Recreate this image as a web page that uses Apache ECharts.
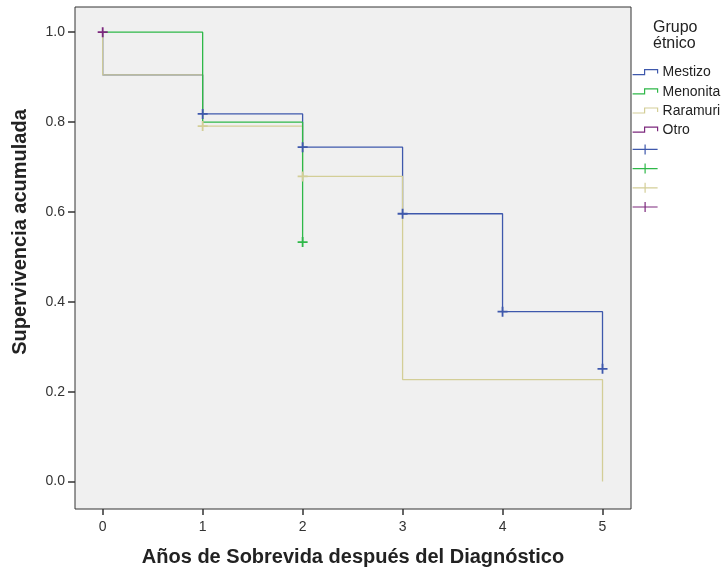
<!DOCTYPE html>
<html>
<head>
<meta charset="utf-8">
<script src="https://cdn.jsdelivr.net/npm/echarts@6/dist/echarts.min.js"></script>
<style>html,body{margin:0;padding:0;background:#fff}#c{width:723px;height:573px}</style>
</head>
<body>
<div id="c"></div>
<script>
// ---- data ----
const groups = ['Mestizo', 'Menonita', 'Raramuri', 'Otro'];
const colors = ['#3E58AC', '#2EB848', '#D3CE97', '#7C287D'];
const mestizoTimes = [0, 0, 1, 2, 3, 4, 5];
const mestizoSurv  = [1.0, 0.905, 0.818, 0.744, 0.596, 0.378, 0.251];
const menonitaTimes = [0, 1, 2];
const menonitaSurv  = [1.0, 0.80, 0.533];
const raramuriTimes = [0, 0, 1, 2, 3, 5];
const raramuriSurv  = [1.0, 0.905, 0.791, 0.679, 0.227, 0.0];
const otroTimes = [0];
const otroSurv  = [1.0];
const mestizoCensT = [1, 2, 3, 4, 5];
const mestizoCensS = [0.818, 0.744, 0.596, 0.378, 0.251];
const menonitaCensT = [2];
const menonitaCensS = [0.533];
const raramuriCensT = [1, 2];
const raramuriCensS = [0.791, 0.679];
const otroCensT = [0];
const otroCensS = [1.0];
const xTicks = [0, 1, 2, 3, 4, 5];
const yTicks = [0.0, 0.2, 0.4, 0.6, 0.8, 1.0];

const curves = [[mestizoTimes, mestizoSurv], [menonitaTimes, menonitaSurv], [raramuriTimes, raramuriSurv], [otroTimes, otroSurv]];
const cens = [[mestizoCensT, mestizoCensS], [menonitaCensT, menonitaCensS], [raramuriCensT, raramuriCensS], [otroCensT, otroCensS]];
const zip = (a, b) => a.map((v, i) => [v, b[i]]);

const stepIcon = 'path://M0,0M0,11L12,11L12,6L25,6L25,10M25,18';
const crossIcon = 'path://M0,0M0,9L25,9M12.5,4L12.5,14M25,18';
const censName = g => 'c_' + g;

const series = [];
[0, 2, 1, 3].forEach(i => {
  series.push({
    name: groups[i], type: 'line', step: 'end', data: zip(curves[i][0], curves[i][1]),
    showSymbol: false, symbol: 'none', lineStyle: { color: colors[i], width: 1.3 },
    itemStyle: { color: colors[i] }, animation: false, z: 2
  });
});
groups.forEach((g, i) => {
  series.push({
    name: censName(g), type: 'scatter', data: zip(cens[i][0], cens[i][1]),
    symbol: 'path://M0,5L10,5M5,0L5,10', symbolSize: 10,
    itemStyle: { color: 'rgba(0,0,0,0)', borderColor: colors[i], borderWidth: 1.8, opacity: 1 },
    animation: false, z: 3
  });
});

const legendData = groups.map((g, i) => ({
  name: g, icon: stepIcon,
  itemStyle: { color: 'rgba(0,0,0,0)', borderColor: colors[i], borderWidth: 1.2 }
})).concat(groups.map((g, i) => ({
  name: censName(g), icon: crossIcon,
  itemStyle: { color: 'rgba(0,0,0,0)', borderColor: colors[i], borderWidth: 1.2 }
})));

const chart = echarts.init(document.getElementById('c'), null, { renderer: 'canvas' });
const font = 'Arial, "Liberation Sans", sans-serif';
chart.setOption({
  backgroundColor: '#ffffff',
  animation: false,
  textStyle: { fontFamily: font },
  title: {
    text: 'Grupo\nétnico', left: 653, top: 20, padding: 0,
    textStyle: { fontSize: 16, fontWeight: 'normal', color: '#222', lineHeight: 16, fontFamily: font }
  },
  legend: {
    orient: 'vertical', left: 632, top: 63, padding: 0, itemWidth: 25, itemHeight: 18, itemGap: 0,
    symbolKeepAspect: false, selectedMode: false, data: legendData,
    formatter: n => (n.indexOf('c_') === 0 ? '' : n),
    textStyle: { fontSize: 14, lineHeight: 18, color: '#222', fontFamily: font }
  },
  grid: {
    left: 75, right: 92, top: 7, bottom: 64, show: true,
    backgroundColor: '#f0f0f0', borderColor: '#333', borderWidth: 1
  },
  xAxis: {
    type: 'value', min: -0.277, max: 5.285,
    name: 'Años de Sobrevida después del Diagnóstico', nameLocation: 'middle', nameGap: 38,
    nameTextStyle: { fontSize: 20, fontWeight: 'bold', color: '#222', fontFamily: font },
    axisLine: { show: false, onZero: false }, splitLine: { show: false },
    axisTick: { show: true, length: 6, customValues: xTicks, lineStyle: { color: '#333', width: 1.5 } },
    axisLabel: { customValues: xTicks, margin: 11, fontSize: 14, color: '#333', fontFamily: font }
  },
  yAxis: {
    type: 'value', min: -0.061, max: 1.056,
    name: 'Supervivencia acumulada', nameLocation: 'middle', nameGap: 45,
    nameTextStyle: { fontSize: 20, fontWeight: 'bold', color: '#222', fontFamily: font, padding: [0, 0, 0, 52] },
    axisLine: { show: false, onZero: false }, splitLine: { show: false },
    axisTick: { show: true, length: 7, customValues: yTicks, lineStyle: { color: '#333', width: 1.5 } },
    axisLabel: { customValues: yTicks, margin: 10, fontSize: 14, color: '#333', fontFamily: font,
      formatter: v => v.toFixed(1) }
  },
  series: series
});
</script>
</body>
</html>
